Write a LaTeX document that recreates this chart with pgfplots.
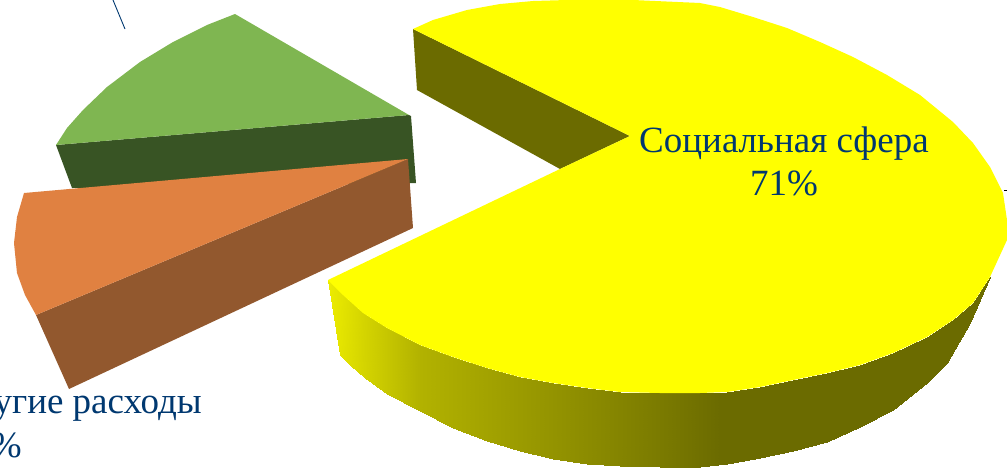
\documentclass[border=0pt]{standalone}
\usepackage{pgfplots}
\pgfplotsset{compat=1.18}
\usepackage{fontspec}
\setmainfont{Liberation Serif}

\definecolor{labelblue}{RGB}{0,56,112}
\definecolor{yellowtop}{RGB}{255,255,0}
\definecolor{yellowdark}{RGB}{107,107,0}
\definecolor{greentop}{RGB}{127,182,81}
\definecolor{greenside}{RGB}{56,84,36}
\definecolor{orangetop}{RGB}{224,129,65}
\definecolor{orangeside}{RGB}{146,88,46}

\begin{document}
\begin{tikzpicture}
\path[use as bounding box, clip] (0,0) rectangle (1007pt,472pt);
\begin{axis}[
	at={(0,0)}, anchor=south west,
	scale only axis, width=1007pt, height=472pt,
	xmin=0, xmax=1007, ymin=0, ymax=472,
	y dir=reverse,
	axis lines=none,
	colormap={wall}{
		rgb255(328)=(236,236,0)
		rgb255(364)=(212,212,0)
		rgb255(420)=(178,178,0)
		rgb255(520)=(155,155,0)
		rgb255(620)=(132,132,0)
		rgb255(670)=(120,120,0)
		rgb255(720)=(107,107,0)
		rgb255(990)=(107,107,0)
	},
	point meta min=328, point meta max=990,
]
% leader line at the top, tick at the right edge
\addplot[labelblue, line width=0.9pt] coordinates {(113,0)(125,29)};
\addplot[black, line width=0.9pt] coordinates {(1004,190)(1007,190)};

% green slice
\addplot[fill=greenside, draw=none] coordinates {
	(56,145)(409,115)(411,116)(416,183)(72,188)};
\addplot[fill=greentop, draw=none] coordinates {
	(235,14)(207,25)(173,42)(140,62)(107,87)(83,110)(67,128)(56,145)(409,115)};

% orange slice
\addplot[fill=orangeside, draw=none] coordinates {
	(36,315)(408,159)(413,228)(69,389)};
\addplot[fill=orangetop, draw=none] coordinates {
	(24,193)(408,159)(36,315)(25,295)(17,273)(14,243)(17,217)};

% yellow slice: notch wall, outer wall, top
\addplot[fill=yellowdark, draw=none] coordinates {
	(413,29)(630,136)(560,169)(417,90)};
\addplot[surf, shader=interp, mesh/rows=2, point meta=x] coordinates {
	(328,280)(343,295)(363,313)(387,328)(420,345)(453,357)(487,368)(520,377)
	(553,383)(587,388)(620,392)(660,393)(700,393)(727,392)(760,387)(793,380)
	(827,373)(860,365)(893,353)(927,337)(953,320)(973,303)(990,277)

	(340,355)(350,365)(365,378)(387,394)(420,411)(453,428)(487,441)(520,451)
	(553,459)(587,464)(620,466)(660,467)(700,467)(727,464)(760,458)(793,451)
	(827,442)(860,427)(893,410)(927,383)(947,363)(970,323)(990,277)
};
\addplot[fill=yellowtop, draw=none] coordinates {
	(413,29)(433,20)(467,10)(500,4)(533,1)(567,0)(633,0)(700,3)(720,7)(753,17)
	(787,28)(820,42)(853,57)(887,75)(920,95)(953,122)(973,143)(990,167)(1003,193)
	(1007,220)(1007,240)(990,277)(973,303)(953,320)(927,337)(893,353)(860,365)
	(827,373)(793,380)(760,387)(727,392)(700,393)(660,393)(620,392)(587,388)
	(553,383)(520,377)(487,368)(453,357)(420,345)(387,328)(363,313)(343,295)(328,280)
	(560,169)(630,136)};

\node[anchor=base, text=labelblue, font=\fontsize{37}{44}\selectfont] at (axis cs:784,152) {Социальная сфера};
\node[anchor=base, text=labelblue, font=\fontsize{37}{44}\selectfont] at (axis cs:784,195) {71\%};
\node[anchor=base east, text=labelblue, font=\fontsize{37}{44}\selectfont, inner sep=0pt] at (axis cs:202,413) {Другие расходы};
\node[anchor=base east, text=labelblue, font=\fontsize{37}{44}\selectfont, inner sep=0pt] at (axis cs:22,457) {\%};
\end{axis}
\end{tikzpicture}
\end{document}
